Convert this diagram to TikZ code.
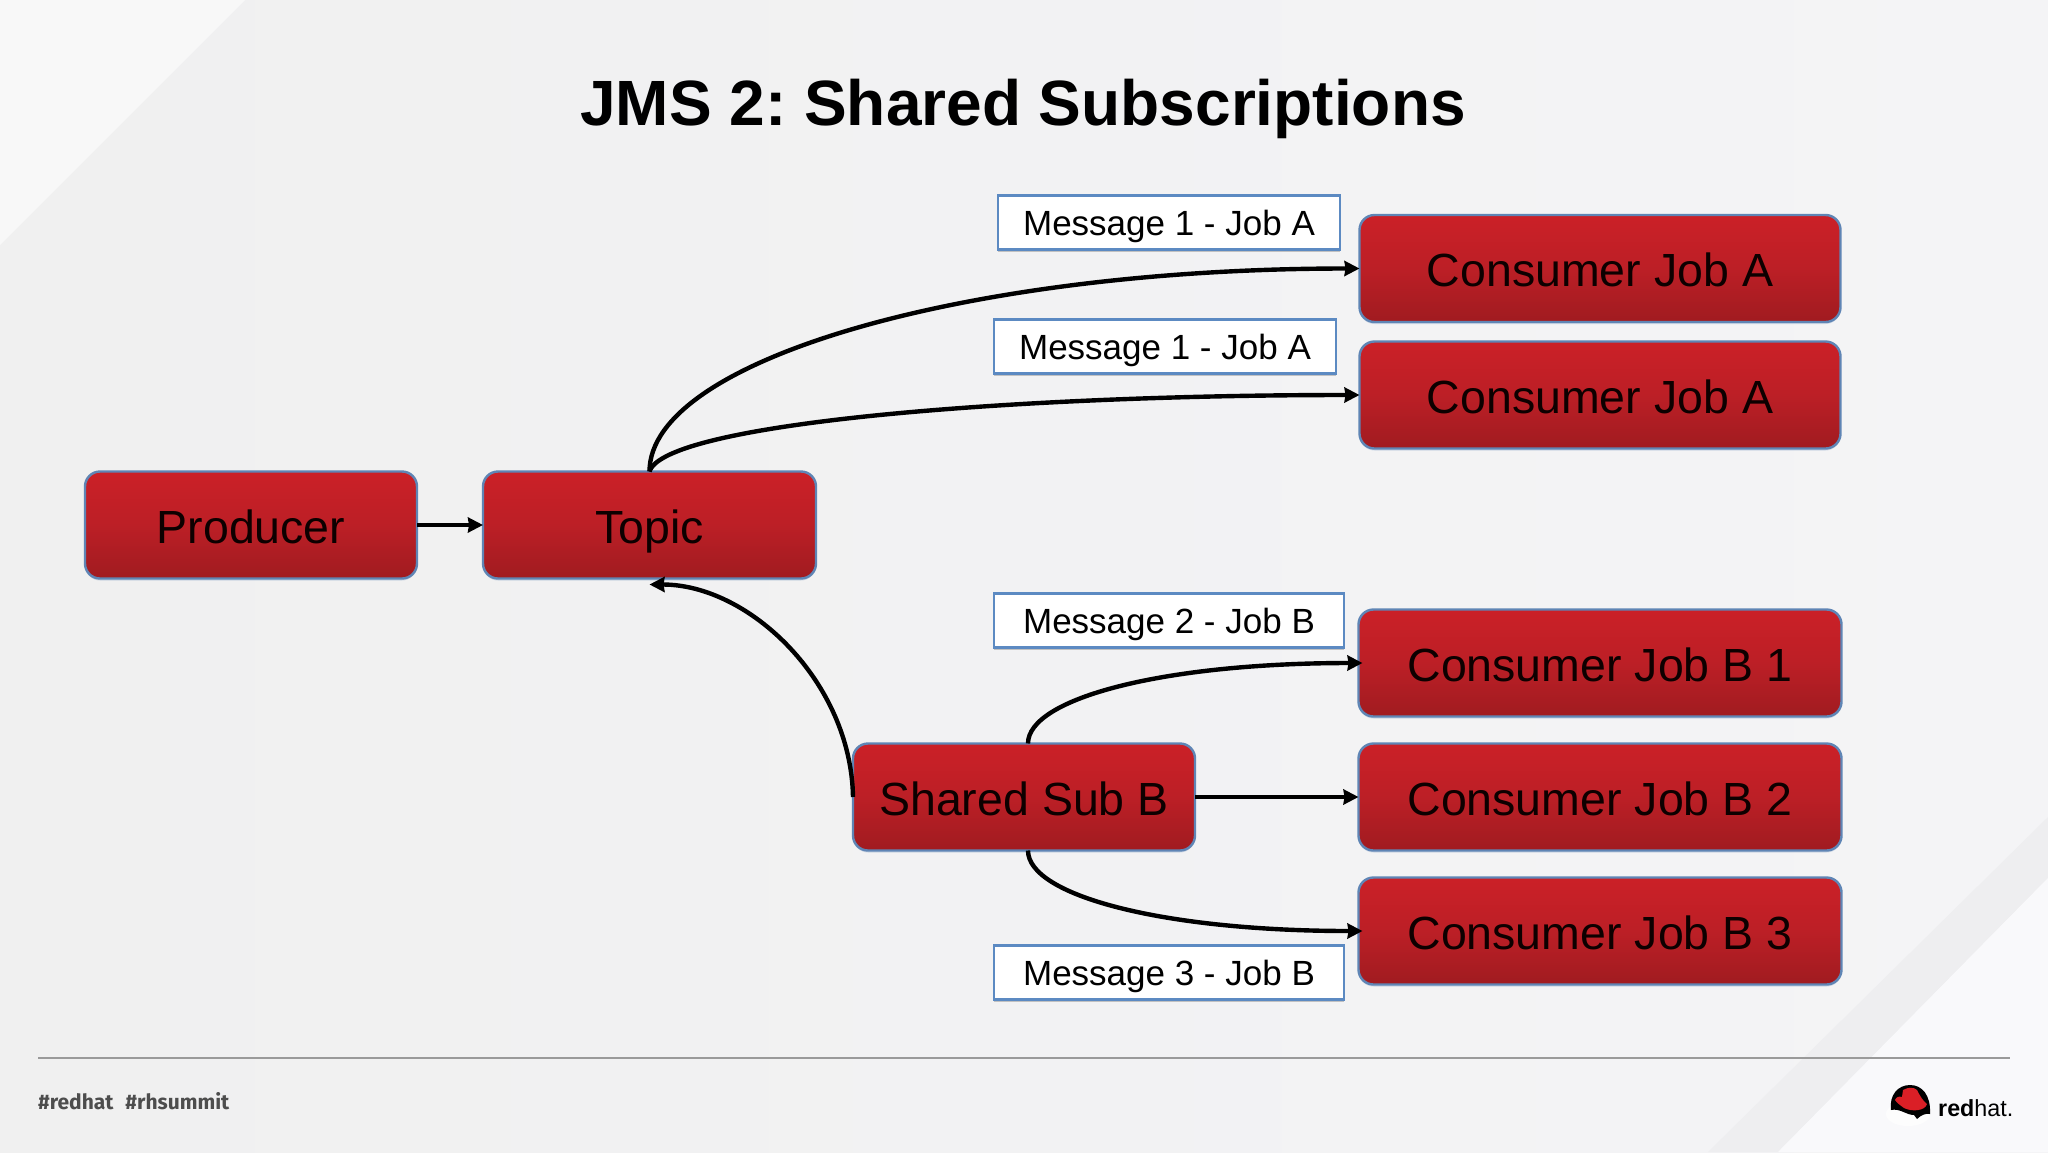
\documentclass[tikz,border=0pt]{standalone}
\usepackage{fontspec}
\setmainfont{Liberation Sans}
\newfontfamily\tagfont{Fira Sans}
\usetikzlibrary{arrows.meta,shadows}
\definecolor{bgL}{HTML}{F0F0F0}
\definecolor{bgR}{HTML}{F4F4F6}
\definecolor{bandlight}{HTML}{F8F8F8}
\definecolor{bandgrey}{HTML}{EEEEF0}
\definecolor{cornerlight}{HTML}{F9F9FB}
\definecolor{redtop}{HTML}{CB2027}
\definecolor{redmid}{HTML}{BC1F26}
\definecolor{redbot}{HTML}{A01B20}
\definecolor{edgeblue}{HTML}{5F85B5}
\definecolor{labelblue}{HTML}{5C8AC2}
\definecolor{ruleg}{HTML}{9A9A9A}
\definecolor{tagg}{HTML}{4D4D4D}
\definecolor{hatred}{HTML}{DA1F26}
\tikzset{
  redbox/.style={rectangle,rounded corners=15pt,draw=edgeblue,line width=2.4pt,
    top color=redtop,bottom color=redbot,middle color=redmid,inner sep=0pt,outer sep=0pt,
    text=black!95!red,font=\fontsize{46.5}{46.5}\selectfont,minimum height=107pt,
    text height=36pt,text depth=0pt,
    drop shadow={shadow xshift=0pt,shadow yshift=-2pt,opacity=.25,fill=edgeblue}},
  msgbox/.style={rectangle,draw=labelblue,line width=2.4pt,fill=white,inner sep=0pt,outer sep=0pt,
    text=black,font=\fontsize{35}{35}\selectfont,minimum height=54pt,minimum width=342pt,
    text height=25pt,text depth=0pt,
    drop shadow={shadow xshift=0pt,shadow yshift=-2pt,opacity=.35,fill=black!60}},
  conn/.style={line width=4.4pt,black,-{Stealth[length=15pt,width=15pt,inset=1pt]}},
}
\begin{document}
\frenchspacing
\begin{tikzpicture}[x=1pt,y=-1pt]
\useasboundingbox (0,0) rectangle (2048,1152);
% background
\shade[left color=bgL,right color=bgR] (0,0) rectangle (2048,1152);
\fill[bandlight] (0,0) -- (245,0) -- (0,245) -- cycle;
\fill[bandgrey] (2048,817) -- (2048,878) -- (1778,1152) -- (1708,1152) -- cycle;
\fill[cornerlight] (2048,878) -- (2048,1152) -- (1778,1152) -- cycle;
% title
\node[font=\fontsize{64}{64}\selectfont\bfseries,text=black,inner sep=0pt] (title) at (1023,109) {JMS 2: Shared Subscriptions};
% boxes
\node[redbox,minimum width=332pt] (producer) at (251,525) {Producer};
\node[redbox,minimum width=333pt] (topic) at (649.5,525) {Topic};
\node[redbox,minimum width=342pt] (shared) at (1024,797) {Shared Sub B};
\node[redbox,minimum width=481pt] (a1) at (1600,268.5) {Consumer Job A};
\node[redbox,minimum width=481pt] (a2) at (1600,395) {Consumer Job A};
\node[redbox,minimum width=483pt] (b1) at (1600,663) {Consumer Job B 1};
\node[redbox,minimum width=483pt] (b2) at (1600,797) {Consumer Job B 2};
\node[redbox,minimum width=483pt] (b3) at (1600,931) {Consumer Job B 3};
% labels
\node[msgbox] (m1) at (1169,222.5) {Message 1 - Job A};
\node[msgbox] (m2) at (1165,346.5) {Message 1 - Job A};
\node[msgbox,minimum width=350pt] (m3) at (1169,620.5) {Message 2 - Job B};
\node[msgbox,minimum width=350pt] (m4) at (1169,972.5) {Message 3 - Job B};
% connectors
\draw[conn] (producer.east) -- (topic.west);
\draw[conn] (topic.north) .. controls +(0,-112) and +(-391,0) .. (a1.west);
\draw[conn] (topic.north) .. controls +(15,-48) and +(-350,0) .. (a2.west);
\draw[conn] (shared.west) .. controls +(-2,-115) and +(100,0) .. ([yshift=-6pt]topic.south);
\draw[conn] ([xshift=4pt]shared.north) .. controls +(0,-45) and +(-200,0) .. ([xshift=4pt]b1.west);
\draw[conn] (shared.east) -- (b2.west);
\draw[conn] ([xshift=4pt]shared.south) .. controls +(0,45) and +(-200,0) .. ([xshift=4pt]b3.west);
% footer
\coordinate (ruleL) at (38,1058);
\coordinate (ruleR) at (2010,1058);
\draw[ruleg,line width=1.6pt] (ruleL) -- (ruleR);
\node[anchor=base west,inner sep=0pt,text=tagg,font=\tagfont\fontsize{21}{21}\selectfont\bfseries] (tags) at (38,1109) {\#redhat\hspace{12pt}\#rhsummit};
% logo
\fill[white,opacity=.7] (1908,1114) ellipse (22 and 12);
\fill[black] (1891,1110) .. controls (1889,1095) and (1898,1085) .. (1910,1085)
  .. controls (1922,1085) and (1931,1095) .. (1930,1114)
  .. controls (1926,1113) and (1921,1115) .. (1917,1119)
  -- (1914,1115)
  .. controls (1906,1115) and (1900,1108) .. (1891,1110) -- cycle;
\fill[hatred] (1903,1090) .. controls (1908,1087) and (1914,1087) .. (1917,1090)
  .. controls (1920,1096) and (1923,1101) .. (1927,1104)
  .. controls (1925,1111) and (1912,1112) .. (1904,1108)
  .. controls (1900,1105) and (1897,1103) .. (1895,1100)
  .. controls (1896,1097) and (1899,1096) .. (1902,1097) -- cycle;
\node[anchor=base west,inner sep=0pt,text=black,font=\fontsize{23.3}{23.3}\selectfont] (logotext) at (1938,1116) {\textbf{red}hat.};
\end{tikzpicture}
\end{document}
